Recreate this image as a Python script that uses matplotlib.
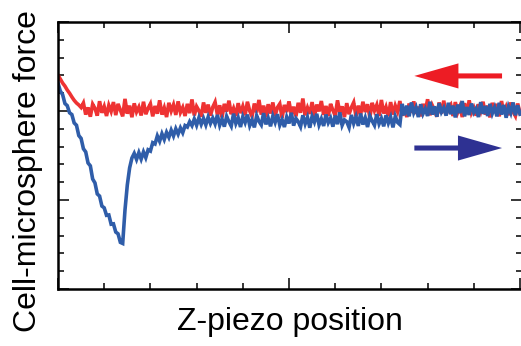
import numpy as np
import matplotlib
matplotlib.use("Agg")
import matplotlib.pyplot as plt
from matplotlib.patches import FancyArrow
from matplotlib.ticker import MultipleLocator

plt.rcParams['font.family'] = ['Liberation Sans', 'DejaVu Sans']

# z-piezo position (arbitrary units), uniform sampling
z_pos = np.linspace(0, 10, 201)

# retraction curve (red)
force_retract = [
    12.02, 11.80, 11.57, 11.40, 11.18, 11.00, 10.79, 10.60, 10.45, 10.34, 10.20,
    10.45, 9.80, 10.20, 9.68, 10.38, 10.15, 9.74, 10.55, 9.90, 10.25,
    9.72, 10.32, 9.98, 10.50, 9.77, 10.40, 10.05, 9.70, 10.68, 9.85,
    10.30, 9.65, 10.43, 9.95, 10.22, 9.75, 10.52, 9.82, 10.15, 10.40,
    9.70, 10.28, 9.85, 10.60, 9.80, 10.18, 9.66, 10.46, 10.00, 10.35,
    9.78, 10.54, 9.92, 10.20, 9.72, 10.40, 9.88, 10.65, 9.75, 10.25,
    10.02, 9.68, 10.48, 9.90, 10.36, 9.74, 10.22, 10.50, 9.80, 10.32,
    9.64, 10.40, 9.96, 10.58, 9.82, 10.15, 9.72, 10.44, 9.88, 10.26,
    9.76, 10.52, 10.00, 9.70, 10.42, 9.92, 10.62, 9.80, 10.30, 9.66,
    10.38, 9.86, 10.48, 9.74, 10.20, 10.40, 9.62, 10.34, 9.94, 10.54,
    9.80, 10.24, 9.70, 10.46, 9.90, 10.70, 9.76, 10.18, 9.84, 10.50,
    9.68, 10.36, 9.98, 10.56, 9.78, 10.28, 9.72, 10.40, 10.04, 9.74,
    10.60, 9.88, 10.26, 9.66, 10.44, 9.82, 10.20, 10.48, 9.70, 10.30,
    9.80, 10.52, 9.94, 10.38, 9.64, 10.46, 10.02, 10.34, 9.72, 10.62,
    9.86, 10.22, 9.70, 10.50, 9.80, 10.30, 9.96, 10.56, 9.74, 10.16,
    9.66, 10.42, 9.90, 10.54, 9.84, 10.24, 9.70, 10.40, 9.98, 10.66,
    9.76, 10.32, 10.04, 9.68, 10.48, 9.86, 10.58, 9.78, 10.20, 10.36,
    9.72, 10.50, 9.92, 10.26, 9.66, 10.44, 9.82, 10.60, 9.90, 10.18,
    9.74, 10.38, 10.00, 10.52, 9.80, 10.30, 9.64, 10.46, 9.94, 10.40,
    9.70, 10.56, 9.86, 10.22, 9.76, 10.48, 9.96, 9.72, 10.42, 9.88,
]

# approach curve (blue)
force_approach = [
    11.57, 11.12, 10.92, 10.42, 10.30, 9.90, 9.80, 9.33, 9.20, 8.62,
    8.46, 7.88, 7.70, 7.08, 6.92, 6.18, 5.96, 5.34, 5.22, 4.66,
    4.56, 4.14, 4.16, 3.64, 3.66, 3.20, 3.10, 2.62, 2.56,
    4.44, 5.84, 6.80, 7.36, 7.62, 7.28, 7.66, 7.30, 7.70, 7.38,
    7.82, 7.75, 8.22, 8.15, 8.60, 8.30, 8.72, 8.40, 8.80, 8.52,
    8.92, 8.60, 9.00, 8.70, 9.05, 8.78, 9.18, 9.10, 9.40, 9.18,
    9.55, 9.20, 9.62, 9.25, 9.58, 9.22, 9.66, 9.30, 9.60, 9.28,
    9.78, 9.20, 9.55, 9.12, 9.70, 9.40, 9.15, 9.85, 9.30, 9.62,
    9.10, 9.68, 9.35, 9.80, 9.18, 9.50, 9.08, 9.74, 9.42, 9.22,
    9.88, 9.25, 9.60, 9.14, 9.72, 9.36, 9.82, 9.20, 9.52, 9.10,
    9.66, 9.30, 9.90, 9.18, 9.58, 9.40, 9.12, 9.76, 9.28, 9.64,
    9.06, 9.70, 9.38, 9.84, 9.22, 9.56, 9.16, 9.80, 9.34, 9.60,
    9.12, 9.74, 9.26, 9.92, 9.20, 9.50, 9.40, 9.08, 9.78, 9.30,
    9.68, 9.16, 9.86, 9.24, 9.62, 9.10, 9.72, 9.44, 9.20, 9.82,
    9.28, 9.58, 9.14, 9.76, 9.32, 9.66, 9.08, 9.70, 9.36, 9.24,
    10.40, 9.76, 10.30, 9.70, 10.48, 9.90, 10.20, 9.66, 10.38, 9.84,
    10.12, 9.72, 10.52, 9.80, 10.26, 9.68, 10.44, 9.94, 10.18, 9.74,
    10.46, 9.82, 10.30, 9.64, 10.36, 9.88, 10.56, 9.70, 10.22, 9.78,
    10.42, 9.92, 10.14, 9.66, 10.50, 9.84, 10.28, 9.72, 10.40, 9.86,
    10.20, 9.70, 10.46, 9.80, 10.34, 9.62, 10.24, 9.90, 10.48, 9.76,
    10.32, 9.82,
]

red = '#EE3333'
blue = '#2F5DA9'

fig = plt.figure(figsize=(5.21, 3.46), dpi=100)
ax = fig.add_axes([58/521, 57/346, 464/521, 267/346])

ax.plot(z_pos, force_retract, color=red, lw=2.6, solid_joinstyle='miter')
ax.plot(z_pos, force_approach, color=blue, lw=2.6, solid_joinstyle='miter')

ax.set_xlim(0, 464/46.2)
ax.set_ylim(0, 15)

ax.xaxis.set_major_locator(MultipleLocator(5))
ax.xaxis.set_minor_locator(MultipleLocator(1))
ax.yaxis.set_major_locator(MultipleLocator(5))
ax.yaxis.set_minor_locator(MultipleLocator(1))
ax.tick_params(which='both', direction='in', top=True, right=True,
               labelbottom=False, labelleft=False, width=1.1)
ax.tick_params(which='major', length=8)
ax.tick_params(which='minor', length=4.3)
for s in ax.spines.values():
    s.set_linewidth(1.8)

# direction arrows
ax.add_patch(FancyArrow(0.957, 0.798, -0.189, 0, width=0.019, head_width=0.094,
                        head_length=0.095, length_includes_head=True,
                        color='#ED1C24', lw=0, transform=ax.transAxes))
ax.add_patch(FancyArrow(0.768, 0.528, 0.189, 0, width=0.019, head_width=0.094,
                        head_length=0.095, length_includes_head=True,
                        color='#2E3192', lw=0, transform=ax.transAxes))

ax.set_xlabel('Z-piezo position', fontsize=23)
ax.set_ylabel('Cell-microsphere force', fontsize=23)
ax.xaxis.set_label_coords(0.5, -0.067)
ax.yaxis.set_label_coords(-0.032, 0.44)

fig.savefig('out.png', dpi=100)
